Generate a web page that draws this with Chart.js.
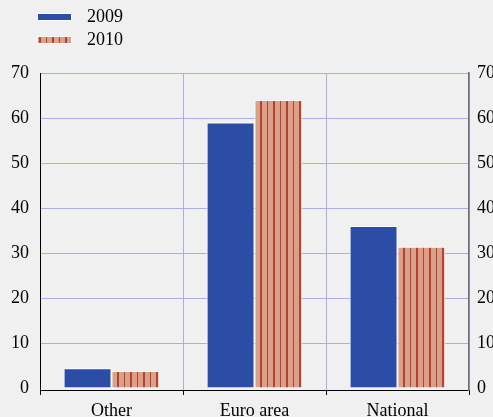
<!DOCTYPE html>
<html>
<head>
<meta charset="utf-8">
<script src="https://cdn.jsdelivr.net/npm/chart.js@4"></script>
<style>
  html, body { margin: 0; padding: 0; background: #f0f0f0; overflow: hidden; }
  #wrap { position: absolute; left: 0; top: 0; width: 510px; height: 425px; }
</style>
</head>
<body>
<div id="wrap"><canvas id="chart"></canvas></div>
<script>
const categories = ['Other', 'Euro area', 'National'];
const values2009 = [4.4, 59, 36];
const values2010 = [3.8, 64, 31.4];
const yTicks = [0, 10, 20, 30, 40, 50, 60, 70];

const FONT = { family: '"Liberation Serif", "Times New Roman", serif', size: 18 };
const BLUE = '#2b4da6';
const GRID = '#a9aee6';

// vertical red stripes on salmon for 2010
function stripePattern() {
  const c = document.createElement('canvas');
  c.width = 13; c.height = 4;
  const g = c.getContext('2d');
  g.fillStyle = '#d9a08a';
  g.fillRect(0, 0, 13, 4);
  g.fillStyle = '#b7412f';
  g.fillRect(0, 0, 2, 4);
  g.fillRect(7, 0, 1, 4);
  return g.createPattern(c, 'repeat');
}
const STRIPES = stripePattern();

const legendPlugin = {
  id: 'simpleLegend',
  afterDraw(chart) {
    const ctx = chart.ctx;
    ctx.save();
    chart.data.datasets.forEach((ds, i) => {
      const y = 13 + i * 23;
      ctx.fillStyle = '#ffffff';
      ctx.fillRect(37, y, 35, 8);
      ctx.fillStyle = ds.backgroundColor;
      ctx.fillRect(38, y + 1, 33, 6);
      ctx.fillStyle = '#000';
      ctx.font = FONT.size + 'px ' + FONT.family;
      ctx.textBaseline = 'middle';
      ctx.fillText(ds.label, 87, y + 4);
    });
    ctx.restore();
  }
};

new Chart(document.getElementById('chart'), {
  type: 'bar',
  data: {
    labels: categories,
    datasets: [
      { label: '2009', data: values2009, backgroundColor: BLUE, borderColor: '#ffffff', borderWidth: 1 },
      { label: '2010', data: values2010, backgroundColor: STRIPES, borderColor: '#ffffff', borderWidth: 1 }
    ]
  },
  options: {
    responsive: true,
    maintainAspectRatio: false,
    animation: false,
    categoryPercentage: 0.67,
    barPercentage: 1.0,
    layout: { padding: { top: 73, left: 0, right: 0, bottom: 0 } },
    plugins: { legend: { display: false }, tooltip: { enabled: false } },
    scales: {
      x: {
        grid: { color: GRID, offset: true, tickLength: 5, tickColor: '#000' },
        border: { color: '#000', width: 1 },
        ticks: { color: '#000', font: FONT, padding: 5, maxRotation: 0 },
        afterFit: s => { s.height = 35; }
      },
      y: {
        position: 'left',
        min: -0.44,
        max: 70,
        afterBuildTicks: s => { s.ticks = yTicks.map(v => ({ value: v })); },
        grid: { color: c => (c.tick && c.tick.value === 0 ? 'rgba(0,0,0,0)' : GRID), drawTicks: false },
        border: { color: '#000', width: 1 },
        ticks: { color: '#000', font: FONT, padding: 11 },
        afterFit: s => { s.width = 40; }
      },
      y2: {
        position: 'right',
        min: -0.44,
        max: 70,
        afterBuildTicks: s => { s.ticks = yTicks.map(v => ({ value: v })); },
        grid: { display: false, drawTicks: false },
        border: { color: '#6e6e6e', width: 1.5 },
        ticks: { color: '#000', font: FONT, padding: 8 },
        afterFit: s => { s.width = 41; }
      }
    }
  },
  plugins: [legendPlugin]
});
</script>
</body>
</html>
